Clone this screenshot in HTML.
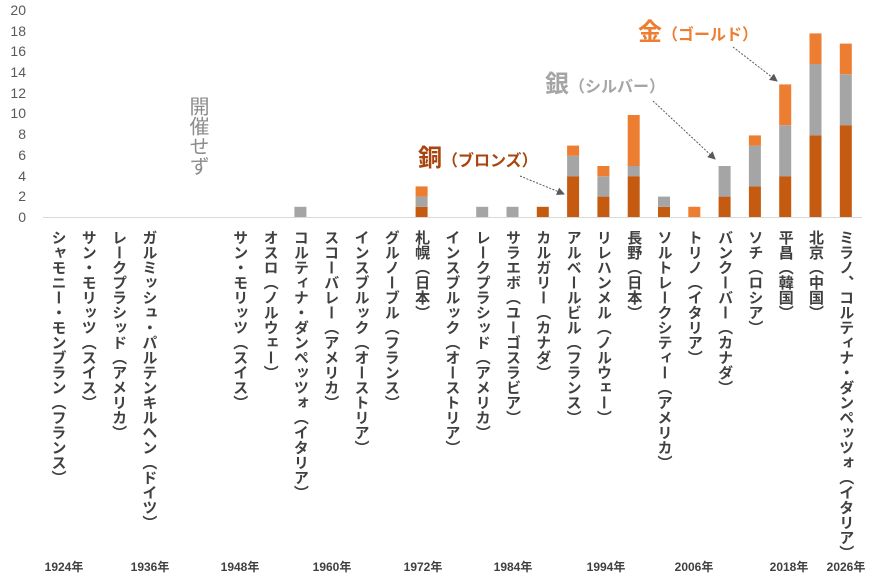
<!DOCTYPE html>
<html><head><meta charset="utf-8"><style>
body{margin:0;background:#fff;}
svg text{font-family:"Liberation Sans","Noto Sans CJK JP",sans-serif;}
.v{writing-mode:vertical-rl;font-size:15px;font-weight:bold;fill:#404040;}
.yr{font-size:12px;font-weight:bold;fill:#404040;}
.yt{font-size:14px;fill:#595959;}
</style></head><body>
<svg width="875" height="576" xmlns="http://www.w3.org/2000/svg">
<defs><marker id="ar" markerWidth="8" markerHeight="8" refX="7" refY="4" orient="auto" markerUnits="userSpaceOnUse"><path d="M0,0 L8,4 L0,8z" fill="#595959"/></marker></defs>
<g class="yt" text-anchor="end">
<text x="26" y="222">0</text><text x="26" y="201">2</text><text x="26" y="181">4</text><text x="26" y="160">6</text><text x="26" y="139">8</text><text x="26" y="118">10</text><text x="26" y="98">12</text><text x="26" y="77">14</text><text x="26" y="56">16</text><text x="26" y="36">18</text><text x="26" y="15">20</text>
</g>
<line x1="43" y1="217.5" x2="862" y2="217.5" stroke="#d9d9d9" stroke-width="1"/>
<g id="bars"></g>
<text x="197" y="96" style="writing-mode:vertical-rl;font-size:20px;fill:#8c8c8c">開催せず</text>
<text x="638" y="40" font-weight="bold" fill="#ED7D31"><tspan font-size="24">金</tspan><tspan font-size="16">（ゴールド）</tspan></text>
<text x="545" y="92" font-weight="bold" fill="#A5A5A5"><tspan font-size="24">銀</tspan><tspan font-size="16">（シルバー）</tspan></text>
<text x="418" y="166" font-weight="bold" fill="#A8450E"><tspan font-size="24">銅</tspan><tspan font-size="16">（ブロンズ）</tspan></text>
<g stroke="#595959" stroke-width="1" stroke-dasharray="2,1.5" fill="none">
<line x1="733" y1="47" x2="777" y2="81" marker-end="url(#ar)"/>
<line x1="653" y1="101" x2="715" y2="159" marker-end="url(#ar)"/>
<line x1="520" y1="176" x2="564" y2="194" marker-end="url(#ar)"/>
</g>
<g id="labels"></g>
<g class="yr" text-anchor="middle">
<text x="64" y="571">1924年</text><text x="150" y="571">1936年</text><text x="240" y="571">1948年</text><text x="332" y="571">1960年</text><text x="423" y="571">1972年</text><text x="513" y="571">1984年</text><text x="606" y="571">1994年</text><text x="694" y="571">2006年</text><text x="789" y="571">2018年</text><text x="846" y="571">2026年</text>
</g>
</svg>
<script>
var ns="http://www.w3.org/2000/svg";
var names=["シャモニー・モンブラン（フランス）","サン・モリッツ（スイス）","レークプラシッド（アメリカ）","ガルミッシュ・パルテンキルヘン（ドイツ）","","","サン・モリッツ（スイス）","オスロ（ノルウェー）","コルティナ・ダンペッツォ（イタリア）","スコーバレー（アメリカ）","インスブルック（オーストリア）","グルノーブル（フランス）","札幌（日本）","インスブルック（オーストリア）","レークプラシッド（アメリカ）","サラエボ（ユーゴスラビア）","カルガリー（カナダ）","アルベールビル（フランス）","リレハンメル（ノルウェー）","長野（日本）","ソルトレークシティー（アメリカ）","トリノ（イタリア）","バンクーバー（カナダ）","ソチ（ロシア）","平昌（韓国）","北京（中国）","ミラノ、コルティナ・ダンペッツォ（イタリア）"];
var d={8:[0,1,0],12:[1,1,1],14:[0,1,0],15:[0,1,0],16:[1,0,0],17:[4,2,1],18:[2,2,1],19:[4,1,5],20:[1,1,0],21:[0,0,1],22:[2,3,0],23:[3,4,1],24:[4,5,4],25:[8,7,3],26:[9,5,3]};
var cols=["#C55A11","#A5A5A5","#ED7D31"],sc=10.2,bw=12;
var bg=document.getElementById("bars"),lg=document.getElementById("labels");
for(var i=0;i<27;i++){
 var cx=58+30.3*i;
 if(d[i]){var y=217;for(var k=0;k<3;k++){var h=d[i][k]*sc;if(h>0){var r=document.createElementNS(ns,"rect");r.setAttribute("x",cx-bw/2);r.setAttribute("y",y-h);r.setAttribute("width",bw);r.setAttribute("height",h);r.setAttribute("fill",cols[k]);bg.appendChild(r);y-=h;}}}
 if(names[i]){var t=document.createElementNS(ns,"text");t.setAttribute("x",cx);t.setAttribute("y",230);t.setAttribute("class","v");t.textContent=names[i];lg.appendChild(t);}
}
</script>
</body></html>
